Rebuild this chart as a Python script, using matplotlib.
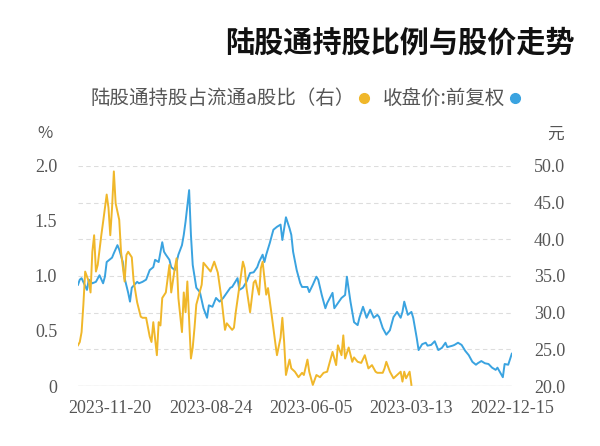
import matplotlib.pyplot as plt
from matplotlib.lines import Line2D

plt.rcParams['font.family'] = ['Noto Sans CJK SC', 'DejaVu Sans']

# trading-day number counted from 2022-12-15 (the picture is mirrored: time runs right to left)
tick_days = [0, 56, 112, 168, 224]
tick_labels = ['2022-12-15', '2023-03-13', '2023-06-05', '2023-08-24', '2023-11-20']

# 收盘价:前复权 (元)
blue_day = [0, 2, 4, 5, 8, 9, 11, 13, 15, 17, 19, 20, 22, 24, 26, 28, 30, 32, 33, 36,
            37, 39, 41, 43, 45, 47, 48, 50, 52, 53, 55, 56, 58, 60, 61, 62, 64, 66, 68, 70,
            72, 74, 75, 77, 79, 81, 83, 85, 86, 88, 90, 92, 93, 95, 97, 99, 100, 103, 104, 106,
            108, 109, 111, 113, 114, 117, 118, 120, 122, 123, 124, 126, 128, 129, 131, 133, 135, 137, 138, 139,
            141, 142, 144, 146, 148, 150, 152, 153, 156, 157, 159, 161, 163, 165, 167, 169, 170, 172, 174, 176,
            178, 179, 180, 182, 183, 184, 186, 188, 190, 191, 193, 194, 195, 197, 199, 200, 202, 204, 206, 208,
            209, 212, 213, 214, 216, 217, 219, 220, 222, 223, 226, 227, 228, 230, 232, 234, 236, 237, 240, 241,
            242]
blue_price = [24.4, 22.9, 23.0, 21.2, 22.5, 22.2, 22.5, 23.0, 23.1, 23.4, 23.1, 22.9, 23.3, 24.2, 24.8, 25.6, 25.9, 25.6, 25.5, 25.3,
              25.9, 25.2, 24.9, 26.1, 25.6, 25.5, 25.9, 25.7, 24.9, 26.5, 29.3, 30.1, 29.7, 31.5, 30.1, 29.3, 30.1, 29.4, 27.6, 27.0,
              27.9, 29.4, 29.7, 29.3, 30.4, 29.3, 30.8, 29.3, 28.3, 28.7, 31.5, 34.9, 32.4, 32.0, 31.3, 30.6, 32.7, 31.3, 30.6, 32.4,
              34.5, 34.9, 33.8, 32.8, 33.5, 33.5, 34.0, 35.8, 38.3, 40.6, 41.5, 43.0, 39.9, 42.0, 41.7, 41.3, 39.5, 37.9, 36.9, 37.9,
              36.9, 36.2, 35.5, 35.4, 34.2, 33.4, 33.1, 34.7, 33.5, 33.4, 32.7, 32.0, 31.5, 32.0, 30.8, 31.0, 29.3, 30.6, 32.8, 33.4,
              36.5, 40.6, 46.7, 42.4, 40.6, 39.2, 37.9, 35.8, 36.2, 37.2, 37.9, 38.3, 39.6, 36.9, 37.2, 36.2, 35.8, 34.5, 34.2, 34.0,
              34.2, 33.4, 31.5, 32.7, 34.7, 36.9, 38.6, 39.2, 38.1, 37.5, 36.9, 34.9, 34.0, 35.1, 34.2, 34.0, 34.5, 33.1, 34.7, 34.5,
              33.8]

# 陆股通持股占流通a股比 (%)
yellow_day = [56, 57, 59, 60, 61, 62, 64, 66, 68, 70, 71, 72, 75, 76, 78, 80, 82, 84, 86, 88,
              89, 91, 93, 94, 95, 97, 98, 100, 102, 103, 105, 107, 109, 111, 113, 114, 116, 117, 119, 121,
              123, 124, 126, 127, 128, 129, 131, 132, 134, 136, 137, 139, 140, 141, 143, 144, 146, 148, 149, 150,
              152, 154, 155, 156, 159, 160, 162, 164, 166, 168, 170, 172, 173, 176, 177, 178, 179, 181, 182, 183,
              184, 186, 187, 188, 190, 191, 193, 195, 196, 197, 198, 200, 201, 202, 204, 206, 207, 209, 211, 212,
              214, 215, 216, 218, 219, 221, 222, 223, 224, 225, 226, 228, 229, 231, 232, 233, 234, 235, 236, 238,
              239, 240, 241, 242]
yellow_pct = [0.01, 0.13, 0.07, 0.13, 0.04, 0.13, 0.10, 0.07, 0.13, 0.22, 0.16, 0.12, 0.12, 0.13, 0.19, 0.16, 0.28, 0.21, 0.22, 0.26,
              0.22, 0.35, 0.25, 0.46, 0.28, 0.37, 0.19, 0.31, 0.19, 0.13, 0.12, 0.08, 0.10, 0.01, 0.13, 0.24, 0.10, 0.12, 0.08, 0.13,
              0.16, 0.24, 0.10, 0.40, 0.62, 0.44, 0.28, 0.40, 0.65, 0.89, 0.83, 1.13, 1.07, 0.83, 0.96, 0.94, 0.67, 0.89, 1.07, 1.13,
              0.90, 0.67, 0.53, 0.51, 0.57, 0.51, 0.80, 1.03, 1.13, 1.04, 1.08, 1.12, 0.92, 0.74, 0.53, 0.35, 0.25, 0.95, 0.67, 0.85,
              0.49, 0.80, 1.16, 1.07, 0.85, 1.10, 0.85, 0.80, 0.55, 0.58, 0.28, 0.58, 0.40, 0.45, 0.62, 0.62, 0.63, 0.76, 0.96, 1.17,
              1.22, 1.19, 0.95, 1.22, 1.51, 1.66, 1.95, 1.62, 1.37, 1.62, 1.74, 1.49, 1.37, 1.10, 1.04, 1.37, 1.22, 0.85, 0.95, 1.04,
              0.74, 0.49, 0.40, 0.37]

pct_ticks = [0, 0.5, 1.0, 1.5, 2.0]
pct_labels = ['0', '0.5', '1.0', '1.5', '2.0']
price_ticks = [20, 25, 30, 35, 40, 45, 50]

BLUE = '#3aa3e0'
YELLOW = '#f0b72a'
GREY = '#555555'
TICKFONT = dict(family=['Liberation Serif'], size=13)

fig = plt.figure(figsize=(6, 4.46), dpi=100)
ax = fig.add_axes([0.13, 0.1345, 0.723, 0.4935])
ax2 = ax.twinx()

ax.plot(yellow_day, yellow_pct, color=YELLOW, lw=1.4, zorder=3)
ax2.plot(blue_day, blue_price, color=BLUE, lw=1.4, zorder=3)

ax.set_xlim(242, 0)
ax.set_ylim(0, 2.0)
ax2.set_ylim(20, 50)

ax.set_xticks(tick_days)
ax.set_xticklabels(tick_labels, **TICKFONT, color=GREY)
ax.set_yticks(pct_ticks)
ax.set_yticklabels(pct_labels, **TICKFONT, color=GREY)
ax2.set_yticks(price_ticks)
ax2.set_yticklabels([f'{v:.1f}' for v in price_ticks], **TICKFONT, color=GREY)

ax.tick_params(axis='x', length=0, pad=10)
ax.tick_params(axis='y', length=0, pad=15)
ax2.tick_params(axis='y', length=0, pad=16)

for a in (ax, ax2):
    for s in a.spines.values():
        s.set_visible(False)
ax2.grid(axis='y', color='#dddddd', ls=(0, (4, 3)), lw=0.8)
ax.axhline(0, color='#dddddd', lw=1, zorder=1)
ax2.set_zorder(ax.get_zorder() - 1)
ax.patch.set_visible(False)
ax.set_zorder(ax2.get_zorder() + 1)

fig.text(0.075, 0.70, '%', color=GREY, fontsize=12, ha='center', va='center')
fig.text(0.925, 0.70, '元', color=GREY, fontsize=12, ha='center', va='center')

fig.text(0.958, 0.905, '陆股通持股比例与股价走势', fontsize=21, fontweight='bold',
         ha='right', va='center', color='#111111')

# legend, mirrored like the chart: markers sit to the right of their text
leg_y = 0.78
fig.add_artist(Line2D([0.858], [leg_y], marker='o', ms=7, color=BLUE, transform=fig.transFigure))
fig.text(0.842, leg_y, '收盘价:前复权', fontsize=14, color=GREY, ha='right', va='center')
fig.add_artist(Line2D([0.607], [leg_y], marker='o', ms=7, color=YELLOW, transform=fig.transFigure))
fig.text(0.591, leg_y, '陆股通持股占流通a股比（右）', fontsize=14, color=GREY, ha='right', va='center')

fig.savefig('out.png', dpi=100)
